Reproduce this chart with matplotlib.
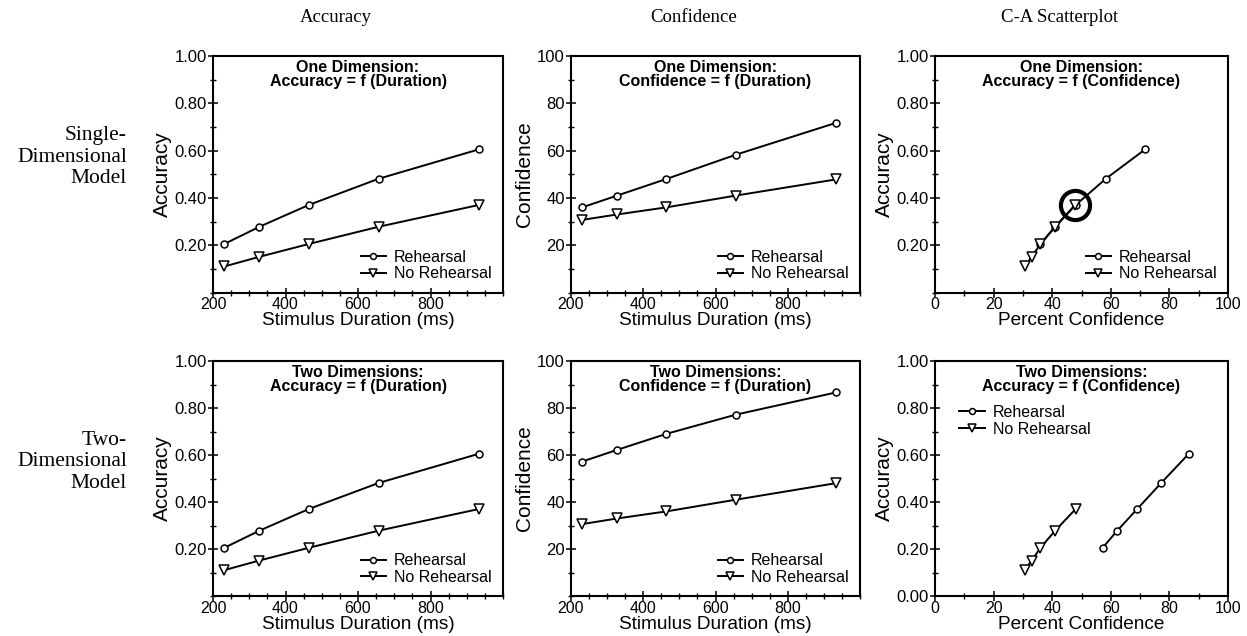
import matplotlib.pyplot as plt
from matplotlib.ticker import MultipleLocator, FixedLocator

plt.rcParams.update({
    "font.family": "sans-serif",
    "font.sans-serif": ["Liberation Sans"],
    "font.size": 11,
    "axes.linewidth": 1.5,
})

# stimulus durations (ms)
duration = [231, 328, 464, 657, 933]

# accuracy, same in both models
acc_reh = [0.205, 0.278, 0.37, 0.481, 0.605]
acc_noreh = [0.11, 0.151, 0.205, 0.278, 0.37]

# confidence, one-dimensional model
conf1_reh = [36, 41, 48, 58.3, 71.7]
conf1_noreh = [30.7, 33, 36, 41, 47.8]

# confidence, two-dimensional model
conf2_reh = [57.2, 62.2, 69, 77.2, 86.6]
conf2_noreh = [30.6, 33, 36, 41, 48]

col_titles = ["Accuracy", "Confidence", "C-A Scatterplot"]
row_titles = ["Single-\nDimensional\nModel", "Two-\nDimensional\nModel"]

W, H = 1247, 636
fig = plt.figure(figsize=(W / 100, H / 100), dpi=100)

lefts = [213, 571, 935]
widths = [290, 289, 293]
tops = [56, 361]
heights = [236.5, 235]

axes = {}
for r in range(2):
    for c in range(3):
        ax = fig.add_axes([lefts[c] / W, 1 - (tops[r] + heights[r]) / H,
                           widths[c] / W, heights[r] / H])
        axes[(r, c)] = ax


def style(ax):
    ax.tick_params(which="major", direction="inout", length=7, width=1.1,
                   labelsize=12, top=False, right=False, pad=1)
    ax.tick_params(axis="x", which="major", labelsize=11.5, pad=0)
    ax.tick_params(which="minor", direction="inout", length=5, width=1.0,
                   top=False, right=False)


def draw(ax, x1, y1, x2, y2):
    ax.plot(x1, y1, "-o", color="black", lw=1.4, ms=5, mfc="white",
            mew=1.1, label="Rehearsal", zorder=3)
    ax.plot(x2, y2, "-v", color="black", lw=1.4, ms=6.5, mfc="white",
            mew=1.1, label="No Rehearsal", zorder=4)


def add_legend(ax, **kw):
    ax.legend(frameon=False, fontsize=11.5, handlelength=1.6,
              handletextpad=0.5, labelspacing=0.1, markerscale=0.85, **kw)


titles = [
    ["One Dimension:\nAccuracy = f (Duration)",
     "One Dimension:\nConfidence = f (Duration)",
     "One Dimension:\nAccuracy = f (Confidence)"],
    ["Two Dimensions:\nAccuracy = f (Duration)",
     "Two Dimensions:\nConfidence = f (Duration)",
     "Two Dimensions:\nAccuracy = f (Confidence)"],
]

conf_sets = [(conf1_reh, conf1_noreh), (conf2_reh, conf2_noreh)]
acc_ticks = [0.2, 0.4, 0.6, 0.8, 1.0]
acc_labels = ["0.20", "0.40", "0.60", "0.80", "1.00"]

for r in range(2):
    c_reh, c_noreh = conf_sets[r]

    # accuracy vs duration
    ax = axes[(r, 0)]
    draw(ax, duration, acc_reh, duration, acc_noreh)
    ax.set_xlim(200, 1000)
    ax.set_ylim(0, 1)
    ax.xaxis.set_major_locator(FixedLocator([200, 400, 600, 800]))
    ax.xaxis.set_minor_locator(MultipleLocator(50))
    ax.yaxis.set_major_locator(FixedLocator(acc_ticks))
    ax.yaxis.set_minor_locator(MultipleLocator(0.1))
    ax.set_yticklabels(acc_labels)
    ax.set_ylabel("Accuracy", fontsize=15, labelpad=2)
    ax.set_xlabel("Stimulus Duration (ms)", fontsize=13.7, labelpad=0)
    add_legend(ax, loc="lower right", borderaxespad=0.3)

    # confidence vs duration
    ax = axes[(r, 1)]
    draw(ax, duration, c_reh, duration, c_noreh)
    ax.set_xlim(200, 1000)
    ax.set_ylim(0, 100)
    ax.xaxis.set_major_locator(FixedLocator([200, 400, 600, 800]))
    ax.xaxis.set_minor_locator(MultipleLocator(50))
    ax.yaxis.set_major_locator(FixedLocator([20, 40, 60, 80, 100]))
    ax.yaxis.set_minor_locator(MultipleLocator(10))
    ax.set_ylabel("Confidence", fontsize=15, labelpad=2)
    ax.set_xlabel("Stimulus Duration (ms)", fontsize=13.7, labelpad=0)
    add_legend(ax, loc="lower right", borderaxespad=0.3)

    # accuracy vs confidence
    ax = axes[(r, 2)]
    draw(ax, c_reh, acc_reh, c_noreh, acc_noreh)
    ax.set_xlim(0, 100)
    ax.set_ylim(0, 1)
    ax.xaxis.set_major_locator(MultipleLocator(20))
    ax.xaxis.set_minor_locator(MultipleLocator(10))
    if r == 0:
        ax.yaxis.set_major_locator(FixedLocator(acc_ticks))
        ax.set_yticklabels(acc_labels)
        add_legend(ax, loc="lower right", borderaxespad=0.3)
        # highlight the overlapping point
        ax.plot(c_noreh[-1], acc_noreh[-1], "o", ms=21, mfc="none",
                mec="black", mew=3, zorder=5)
    else:
        ax.yaxis.set_major_locator(FixedLocator([0.0] + acc_ticks))
        ax.set_yticklabels(["0.00"] + acc_labels)
        add_legend(ax, loc="upper left", bbox_to_anchor=(0.06, 0.84),
                   borderaxespad=0)
    ax.yaxis.set_minor_locator(MultipleLocator(0.1))
    ax.set_ylabel("Accuracy", fontsize=15, labelpad=2)
    ax.set_xlabel("Percent Confidence", fontsize=13.7, labelpad=0)

    for c in range(3):
        ax = axes[(r, c)]
        style(ax)
        ax.text(0.5, 0.985, titles[r][c], transform=ax.transAxes,
                ha="center", va="top", fontsize=11.5, fontweight="bold",
                linespacing=0.95)

for c, t in enumerate(col_titles):
    cx = (lefts[c] + widths[c] / 2 - 22) / W
    fig.text(cx, 1 - 18 / H, t, ha="center", va="center",
             family="Liberation Serif", fontsize=13.5)

row_y = [157, 462]
for r, t in enumerate(row_titles):
    fig.text(127 / W, 1 - row_y[r] / H, t, ha="right", va="center",
             family="Liberation Serif", fontsize=15.5, linespacing=1.15)

fig.savefig("out.png", dpi=100)
